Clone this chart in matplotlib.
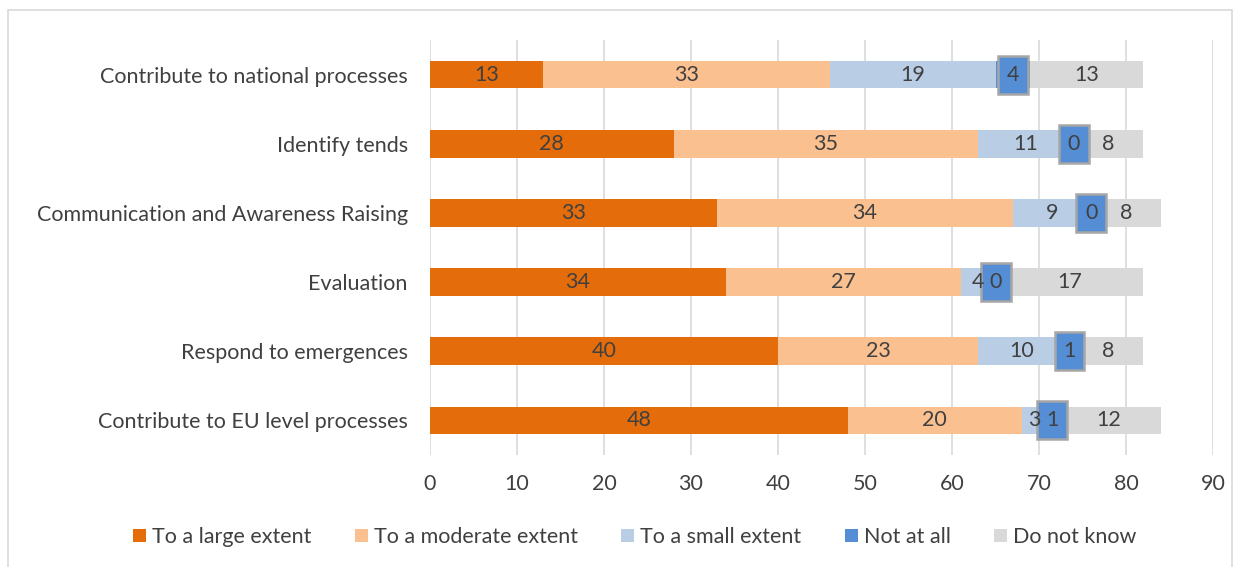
import numpy as np
import matplotlib
matplotlib.use("Agg")
import matplotlib.pyplot as plt
from matplotlib.patches import Rectangle

categories = [
    "Contribute to EU level processes",
    "Respond to emergences",
    "Evaluation",
    "Communication and Awareness Raising",
    "Identify tends",
    "Contribute to national processes",
]
series_names = ["To a large extent", "To a moderate extent", "To a small extent",
                "Not at all", "Do not know"]
large = [48, 40, 34, 33, 28, 13]
moderate = [20, 23, 27, 34, 35, 33]
small = [3, 10, 4, 9, 11, 19]
not_at_all = [1, 1, 0, 0, 0, 4]
dont_know = [12, 8, 17, 8, 8, 13]

colors = ["#E46C0A", "#FAC090", "#B9CDE5", "#558ED5", "#D9D9D9"]
text_color = "#404040"
fs = 15.5

plt.rcParams["font.family"] = ["Lato", "DejaVu Sans"]

fig = plt.figure(figsize=(12.42, 5.67), dpi=100)
ax = fig.add_axes([0.3462, 0.1975, 0.6305, 0.732])

y = np.arange(len(categories))
left = np.zeros(len(categories))
for name, vals, col in zip(series_names, [large, moderate, small, not_at_all, dont_know], colors):
    vals = np.array(vals, dtype=float)
    ax.barh(y, vals, left=left, height=0.4, color=col, label=name, zorder=2)
    for yi, l, v in zip(y, left, vals):
        cx = l + v / 2
        if name == "Not at all":
            # boxed label, a bit taller than the bar
            ax.add_patch(Rectangle((cx - 1.72, yi - 0.275), 3.44, 0.55, fc=col,
                                   ec="#A6A6A6", lw=1.8, zorder=4))
        ax.text(cx, yi, f"{int(v)}", ha="center", va="center", fontsize=fs,
                color=text_color, zorder=5)
    left += vals

ax.set_xlim(0, 90)
ax.set_ylim(-0.5, len(categories) - 0.5)
ax.set_xticks(np.arange(0, 91, 10))
ax.set_yticks(y)
ax.set_yticklabels(categories)
ax.xaxis.grid(True, color="#D9D9D9", lw=1.2, zorder=0)
ax.yaxis.grid(False)
for s in ax.spines.values():
    s.set_visible(False)
ax.tick_params(axis="both", length=0, labelsize=fs, colors=text_color)
ax.tick_params(axis="x", pad=14)
ax.tick_params(axis="y", pad=16)

ax.legend(loc="center", bbox_to_anchor=(0.5111, 0.0529), bbox_transform=fig.transFigure,
          ncol=5, frameon=False, fontsize=fs, handlelength=0.6, handleheight=0.6,
          handletextpad=0.3, columnspacing=2.0, labelcolor=text_color)

fig.patches.append(Rectangle((8 / 1242, -0.01), 1224 / 1242, 1 - 10 / 567 + 0.01,
                             transform=fig.transFigure, fill=False,
                             ec="#D9D9D9", lw=1.2))

fig.savefig("out.png", dpi=100)
